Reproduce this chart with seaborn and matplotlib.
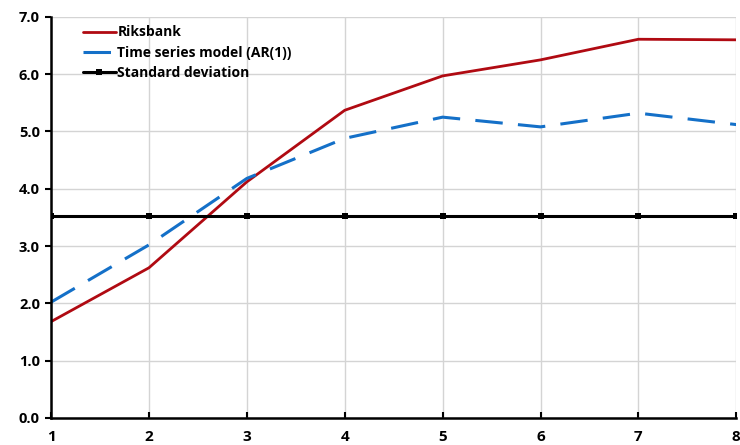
import numpy as np
import pandas as pd
import seaborn as sns
import matplotlib
matplotlib.use("Agg")
import matplotlib.pyplot as plt

horizon = [1, 2, 3, 4, 5, 6, 7, 8]
riksbank = [1.68, 2.62, 4.12, 5.37, 5.97, 6.25, 6.61, 6.60]
ar1 = [2.02, 3.02, 4.18, 4.88, 5.25, 5.08, 5.32, 5.12]
std_dev = [3.52, 3.52, 3.52, 3.52, 3.52, 3.52, 3.52, 3.52]

sns.set_theme(style="white")
plt.rcParams['font.family'] = ['Open Sans', 'DejaVu Sans']
plt.rcParams['font.weight'] = 'bold'
plt.rcParams['text.color'] = 'black'
plt.rcParams['xtick.color'] = 'black'
plt.rcParams['ytick.color'] = 'black'

df = pd.DataFrame({"h": horizon, "Riksbank": riksbank,
                   "Time series model (AR(1))": ar1,
                   "Standard deviation": std_dev})

fig = plt.figure(figsize=(7.4, 4.45), dpi=100)
ax = fig.add_axes([0.069, 0.061, 0.926, 0.901])

ax.grid(True, color='#d4d4d4', linewidth=1.0)
ax.set_axisbelow(True)

sns.lineplot(data=df, x="h", y="Riksbank", color='#b00a12', linewidth=2.0,
             label="Riksbank", ax=ax)
sns.lineplot(data=df, x="h", y="Time series model (AR(1))", color='#1470c8',
             linewidth=2.2, dashes=False, label="Time series model (AR(1))", ax=ax)
ax.lines[-1].set_dashes([9, 5])
sns.lineplot(data=df, x="h", y="Standard deviation", color='black', linewidth=2.2,
             marker='s', markersize=5, markeredgewidth=0,
             label="Standard deviation", ax=ax)

ax.set_xlim(1, 8)
ax.set_ylim(0, 7)
ax.set_xticks(horizon)
ax.set_yticks(np.arange(0, 7.5, 1.0))
ax.set_yticklabels([f"{v:.1f}" for v in np.arange(0, 7.5, 1.0)])
ax.set_xlabel(None)
ax.set_ylabel(None)

for s in ['top', 'right']:
    ax.spines[s].set_visible(False)
for s in ['left', 'bottom']:
    ax.spines[s].set_color('black')
    ax.spines[s].set_linewidth(1.8)

ax.tick_params(axis='y', direction='out', length=4, width=1.5, color='black',
               left=True, labelsize=10.5, pad=4)
ax.tick_params(axis='x', direction='in', length=4, width=1.5, color='black',
               bottom=True, labelsize=11, pad=9)

leg = ax.legend(loc='upper left', bbox_to_anchor=(0.028, 1.01), frameon=False,
                handlelength=2.4, handletextpad=0.1, labelspacing=0.45,
                prop={'weight': 'bold', 'size': 10})

fig.savefig("out.png", dpi=100)
